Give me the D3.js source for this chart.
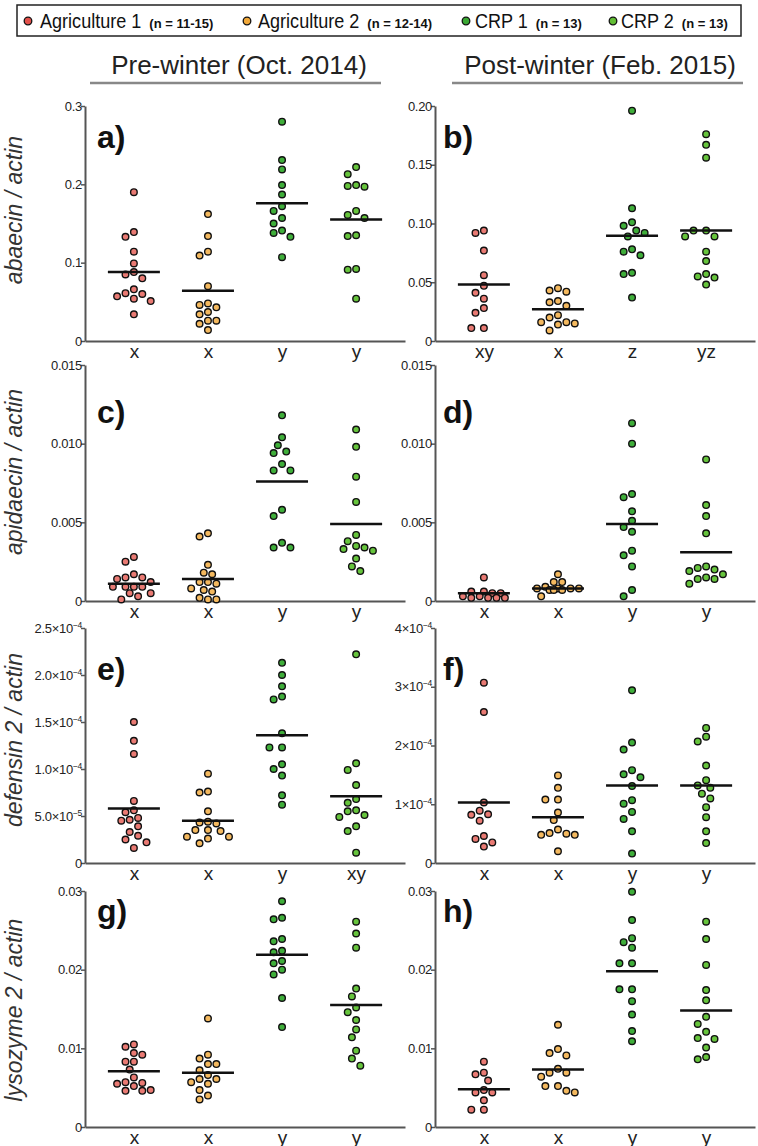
<!DOCTYPE html>
<html><head><meta charset="utf-8">
<script src="https://cdn.jsdelivr.net/npm/d3@7"></script>
<style>body{margin:0;background:#fff} svg{display:block} text{font-family:"Liberation Sans",Arial,Helvetica,sans-serif}</style>
</head><body><svg id="c" width="758" height="1146"></svg>
<script>
// ---------- categories & labels ----------
const groups = ["Agriculture 1","Agriculture 2","CRP 1","CRP 2"];
const groupN = ["(n = 11-15)","(n = 12-14)","(n = 13)","(n = 13)"];
const seasons = ["Pre-winter (Oct. 2014)","Post-winter (Feb. 2015)"];
const genes = ["abaecin / actin","apidaecin / actin","defensin 2 / actin","lysozyme 2 / actin"];
const panelIds = ["a)","b)","c)","d)","e)","f)","g)","h)"];

// ---------- tick values / labels ----------
const ticksA = [0,0.1,0.2,0.3],            tickLabA = ["0","0.1","0.2","0.3"];
const ticksB = [0,0.05,0.10,0.15,0.20],    tickLabB = ["0","0.05","0.10","0.15","0.20"];
const ticksCD = [0,0.005,0.010,0.015],     tickLabCD = ["0","0.005","0.010","0.015"];
const ticksE = [0,5e-5,1e-4,1.5e-4,2e-4,2.5e-4], tickLabE = ["0","5.0×10^-5","1.0×10^-4","1.5×10^-4","2.0×10^-4","2.5×10^-4"];
const ticksF = [0,1e-4,2e-4,3e-4,4e-4],    tickLabF = ["0","1×10^-4","2×10^-4","3×10^-4","4×10^-4"];
const ticksGH = [0,0.01,0.02,0.03],        tickLabGH = ["0","0.01","0.02","0.03"];

// ---------- data ----------
// a) abaecin, pre-winter
const aAg1 = [0.190,0.139,0.133,0.114,0.099,0.088,0.085,0.080,0.066,0.061,0.060,0.057,0.054,0.051,0.034];
const aAg2 = [0.162,0.134,0.114,0.109,0.070,0.048,0.046,0.043,0.037,0.034,0.026,0.026,0.022,0.014];
const aCrp1 = [0.280,0.231,0.219,0.199,0.187,0.172,0.166,0.157,0.150,0.141,0.138,0.133,0.107];
const aCrp2 = [0.222,0.213,0.199,0.198,0.197,0.166,0.161,0.157,0.135,0.134,0.092,0.091,0.054];
const aMeans = [0.088,0.064,0.176,0.155];
const aLetters = ["x","x","y","y"];
// b) abaecin, post-winter
const bAg1 = [0.094,0.092,0.077,0.056,0.047,0.041,0.036,0.028,0.024,0.011,0.011];
const bAg2 = [0.045,0.043,0.042,0.034,0.033,0.030,0.022,0.020,0.016,0.016,0.015,0.014,0.009];
const bCrp1 = [0.196,0.113,0.101,0.098,0.094,0.092,0.089,0.078,0.076,0.073,0.058,0.057,0.037];
const bCrp2 = [0.176,0.167,0.156,0.094,0.094,0.089,0.089,0.076,0.068,0.057,0.055,0.054,0.048];
const bMeans = [0.048,0.027,0.0895,0.094];
const bLetters = ["xy","x","z","yz"];
// c) apidaecin, pre-winter
const cAg1 = [0.0028,0.0025,0.0017,0.0015,0.0015,0.0014,0.0012,0.0009,0.0009,0.0009,0.0009,0.0005,0.0005,0.0003,0.0001];
const cAg2 = [0.0043,0.0041,0.0023,0.0018,0.0017,0.0012,0.0012,0.0011,0.0008,0.0007,0.0006,0.0002,0.0001,0.0001];
const cCrp1 = [0.0118,0.0104,0.0099,0.0095,0.0094,0.0087,0.0083,0.0083,0.0058,0.0054,0.0037,0.0034,0.0034];
const cCrp2 = [0.0109,0.0098,0.0079,0.0063,0.0042,0.0038,0.0035,0.0034,0.0033,0.0032,0.0027,0.0022,0.0019];
const cMeans = [0.0011,0.0014,0.0076,0.0049];
const cLetters = ["x","x","y","y"];
// d) apidaecin, post-winter
const dAg1 = [0.0015,0.0006,0.0006,0.0005,0.0005,0.0003,0.0003,0.0002,0.0002,0.0002,0.0002];
const dAg2 = [0.0017,0.0012,0.0012,0.0009,0.0008,0.0008,0.0008,0.0008,0.0007,0.0007,0.0007,0.0003];
const dCrp1 = [0.0113,0.0100,0.0068,0.0066,0.0057,0.0051,0.0047,0.0044,0.0032,0.0029,0.0022,0.0007,0.0003];
const dCrp2 = [0.0090,0.0061,0.0054,0.0043,0.0022,0.0021,0.0020,0.0019,0.0017,0.0015,0.0014,0.0014,0.0011];
const dMeans = [0.0005,0.0008,0.0049,0.0031];
const dLetters = ["x","x","y","y"];
// e) defensin 2, pre-winter
const eAg1 = [1.50e-4,1.30e-4,1.16e-4,0.66e-4,0.56e-4,0.54e-4,0.48e-4,0.46e-4,0.45e-4,0.39e-4,0.33e-4,0.29e-4,0.25e-4,0.22e-4,0.16e-4];
const eAg2 = [0.95e-4,0.76e-4,0.75e-4,0.55e-4,0.44e-4,0.43e-4,0.42e-4,0.35e-4,0.35e-4,0.34e-4,0.28e-4,0.28e-4,0.26e-4,0.21e-4];
const eCrp1 = [2.13e-4,2.00e-4,1.88e-4,1.77e-4,1.74e-4,1.38e-4,1.23e-4,1.23e-4,1.05e-4,1.00e-4,0.93e-4,0.72e-4,0.62e-4];
const eCrp2 = [2.22e-4,1.06e-4,0.99e-4,0.83e-4,0.68e-4,0.64e-4,0.56e-4,0.55e-4,0.51e-4,0.49e-4,0.39e-4,0.34e-4,0.11e-4];
const eMeans = [0.58e-4,0.45e-4,1.36e-4,0.71e-4];
const eLetters = ["x","x","y","xy"];
// f) defensin 2, post-winter
const fAg1 = [3.07e-4,2.57e-4,1.03e-4,0.89e-4,0.83e-4,0.82e-4,0.72e-4,0.46e-4,0.41e-4,0.35e-4,0.28e-4];
const fAg2 = [1.49e-4,1.28e-4,1.08e-4,1.08e-4,0.86e-4,0.73e-4,0.57e-4,0.51e-4,0.50e-4,0.48e-4,0.48e-4,0.20e-4];
const fCrp1 = [2.94e-4,2.05e-4,1.93e-4,1.58e-4,1.51e-4,1.46e-4,1.31e-4,1.07e-4,1.01e-4,0.87e-4,0.75e-4,0.54e-4,0.16e-4];
const fCrp2 = [2.30e-4,2.15e-4,2.07e-4,1.66e-4,1.41e-4,1.32e-4,1.28e-4,1.18e-4,1.10e-4,0.95e-4,0.78e-4,0.54e-4,0.34e-4];
const fMeans = [1.03e-4,0.78e-4,1.32e-4,1.32e-4];
const fLetters = ["x","x","y","y"];
// g) lysozyme 2, pre-winter
const gAg1 = [0.0105,0.0102,0.0094,0.0092,0.0083,0.0083,0.0073,0.0063,0.0057,0.0056,0.0055,0.0052,0.0047,0.0046,0.0046];
const gAg2 = [0.0138,0.0092,0.0087,0.0080,0.0080,0.0072,0.0066,0.0061,0.0061,0.0057,0.0055,0.0047,0.0040,0.0035];
const gCrp1 = [0.0287,0.0266,0.0264,0.0239,0.0236,0.0224,0.0222,0.0211,0.0208,0.0200,0.0194,0.0164,0.0127];
const gCrp2 = [0.0261,0.0246,0.0228,0.0176,0.0166,0.0152,0.0146,0.0136,0.0124,0.0114,0.0097,0.0087,0.0078];
const gMeans = [0.0071,0.0069,0.0219,0.0155];
const gLetters = ["x","x","y","y"];
// h) lysozyme 2, post-winter
const hAg1 = [0.0083,0.0069,0.0067,0.0059,0.0047,0.0044,0.0044,0.0034,0.0022,0.0022];
const hAg2 = [0.0130,0.0099,0.0094,0.0091,0.0074,0.0069,0.0069,0.0064,0.0052,0.0052,0.0046,0.0044];
const hCrp1 = [0.0299,0.0263,0.0240,0.0235,0.0228,0.0208,0.0208,0.0175,0.0175,0.0160,0.0143,0.0122,0.0109];
const hCrp2 = [0.0261,0.0239,0.0206,0.0174,0.0161,0.0140,0.0131,0.0121,0.0113,0.0112,0.0101,0.0089,0.0086];
const hMeans = [0.0048,0.0073,0.0198,0.0148];
const hLetters = ["x","x","y","y"];

// ---------- styles / layout ----------
const colors = ["#e97a73","#f4b95f","#3fae3a","#66c43c"];
const legendColors = ["#e4514b","#f2a93a","#3aa834","#62be34"];
const rowTop = [106,365,628,891], rowBot = [341,601,863,1127];
const colX = [85,435], axisLen = [320,320];
const labelBaseOff = [42,58,52,31];
const yTitleCY = [210,472,740,1010];

const panels = [
  {col:0,row:0,max:0.3,   ticks:ticksA, tl:tickLabA, data:[aAg1,aAg2,aCrp1,aCrp2], means:aMeans, letters:aLetters},
  {col:1,row:0,max:0.2,   ticks:ticksB, tl:tickLabB, data:[bAg1,bAg2,bCrp1,bCrp2], means:bMeans, letters:bLetters},
  {col:0,row:1,max:0.015, ticks:ticksCD,tl:tickLabCD,data:[cAg1,cAg2,cCrp1,cCrp2], means:cMeans, letters:cLetters},
  {col:1,row:1,max:0.015, ticks:ticksCD,tl:tickLabCD,data:[dAg1,dAg2,dCrp1,dCrp2], means:dMeans, letters:dLetters},
  {col:0,row:2,max:2.5e-4,ticks:ticksE, tl:tickLabE, data:[eAg1,eAg2,eCrp1,eCrp2], means:eMeans, letters:eLetters},
  {col:1,row:2,max:4e-4,  ticks:ticksF, tl:tickLabF, data:[fAg1,fAg2,fCrp1,fCrp2], means:fMeans, letters:fLetters},
  {col:0,row:3,max:0.03,  ticks:ticksGH,tl:tickLabGH,data:[gAg1,gAg2,gCrp1,gCrp2], means:gMeans, letters:gLetters},
  {col:1,row:3,max:0.03,  ticks:ticksGH,tl:tickLabGH,data:[hAg1,hAg2,hCrp1,hCrp2], means:hMeans, letters:hLetters}
];

const svg = d3.select("#c");

// ---------- legend ----------
const lg = svg.append("g");
lg.append("rect").attr("x",17).attr("y",5).attr("width",724).attr("height",31)
  .attr("fill","none").attr("stroke","#222").attr("stroke-width",1.5);
const legDotX = [28,247,466,613], legTextX = [40,258,475,621];
const legScale = 0.86;
groups.forEach((gname,i)=>{
  lg.append("circle").attr("cx",legDotX[i]).attr("cy",21).attr("r",3.8)
    .attr("fill",legendColors[i]).attr("stroke","#111").attr("stroke-width",1.3);
  const main = lg.append("text").attr("transform",`translate(${legTextX[i]},28) scale(${legScale},1)`)
    .attr("font-size",21).attr("fill","#111").text(gname);
  const w = main.node().getComputedTextLength()*legScale;
  lg.append("text").attr("x",legTextX[i]+w+8).attr("y",28).attr("font-size",13)
    .attr("font-weight","bold").attr("fill","#111").text(groupN[i]);
});

// ---------- season headers ----------
const headCX = [239,600], headUL = [[90,381],[452,743]];
seasons.forEach((s,i)=>{
  svg.append("text").attr("x",headCX[i]).attr("y",74).attr("text-anchor","middle")
    .attr("font-size",26).attr("fill","#222").text(s);
  svg.append("line").attr("x1",headUL[i][0]).attr("x2",headUL[i][1]).attr("y1",83).attr("y2",83)
    .attr("stroke","#888").attr("stroke-width",2.5);
});

// ---------- y titles ----------
genes.forEach((t,i)=>{
  svg.append("text").attr("transform",`translate(22,${yTitleCY[i]}) rotate(-90)`)
    .attr("text-anchor","middle").attr("font-size",23).attr("font-style","italic")
    .attr("fill","#333").text(t);
});

// ---------- beeswarm (bounded width, overlaps allowed when crowded) ----------
function swarm(vals, y, cx, D, step, maxW){
  const pts = vals.map(v=>({v, y:y(v)})).sort((a,b)=>a.y-b.y);
  const placed = [];
  const kMax = Math.floor(maxW/step);
  for (const p of pts){
    let best = null, bestD = -1;
    for (let k=0;k<=2*kMax;k++){
      const m = k===0 ? 0 : (k%2 ? -Math.ceil(k/2) : Math.ceil(k/2));
      const x = cx + m*step;
      const md = placed.length ? d3.min(placed, q => Math.hypot(q.x-x, q.y-p.y)) : Infinity;
      if (md >= D) { best = x; break; }
      if (md > bestD + 0.5) { bestD = md; best = x; }
    }
    p.x = best; placed.push(p);
  }
  return placed;
}

// ---------- panels ----------
panels.forEach((p,pi)=>{
  const x0 = colX[p.col];
  const y = d3.scaleLinear().domain([0,p.max]).range([rowBot[p.row], rowTop[p.row]]);
  const x = d3.scalePoint().domain(groups).range([x0, x0+axisLen[p.col]]).padding(0.66);
  const g = svg.append("g");

  // y axis
  const ya = g.append("g").attr("transform",`translate(${x0},0)`)
    .call(d3.axisLeft(y).tickValues(p.ticks).tickSize(4).tickSizeOuter(0).tickFormat(()=>""));
  ya.select(".domain").attr("stroke","#555").attr("stroke-width",2);
  ya.selectAll(".tick line").attr("stroke","#555").attr("stroke-width",1.5);
  ya.selectAll(".tick text").remove();
  p.ticks.forEach((t,i)=>{
    const lab = p.tl[i].split("^");
    const tx = g.append("text").attr("x",x0-3).attr("y",y(t)+4.5).attr("text-anchor","end")
      .attr("font-size",13).attr("fill","#222").attr("letter-spacing",-0.3);
    tx.append("tspan").text(lab[0]);
    if (lab.length>1) tx.append("tspan").attr("dy",-5).attr("font-size",8.5).text(lab[1].replace("-","−"));
  });

  // x axis
  const xa = g.append("g").attr("transform",`translate(0,${rowBot[p.row]})`)
    .call(d3.axisBottom(x).tickSize(0).tickSizeOuter(0).tickPadding(3).tickFormat((d,i)=>p.letters[i]));
  xa.select(".domain").attr("stroke","#555").attr("stroke-width",2);
  xa.selectAll(".tick text").attr("font-size",19).attr("fill","#222").attr("font-family","Liberation Sans, Arial, sans-serif");

  // points
  p.data.forEach((vals,gi)=>{
    const pts = swarm(vals, y, x(groups[gi]), 8.4, 4.2, 21);
    g.append("g").selectAll("circle").data(pts).join("circle")
      .attr("cx",d=>d.x).attr("cy",d=>d.y).attr("r",3.3)
      .attr("fill",colors[gi]).attr("stroke","#111").attr("stroke-width",1.4);
  });
  // mean lines
  g.append("g").selectAll("line").data(p.means).join("line")
    .attr("x1",(d,i)=>x(groups[i])-26).attr("x2",(d,i)=>x(groups[i])+26)
    .attr("y1",d=>y(d)).attr("y2",d=>y(d)).attr("stroke","#111").attr("stroke-width",2.5);

  // panel id
  g.append("text").attr("x", x0 + (p.col===0?12:8)).attr("y", rowTop[p.row]+labelBaseOff[p.row])
    .attr("font-size",32).attr("font-weight","bold").attr("fill","#111").text(panelIds[pi]);
});
</script></body></html>
